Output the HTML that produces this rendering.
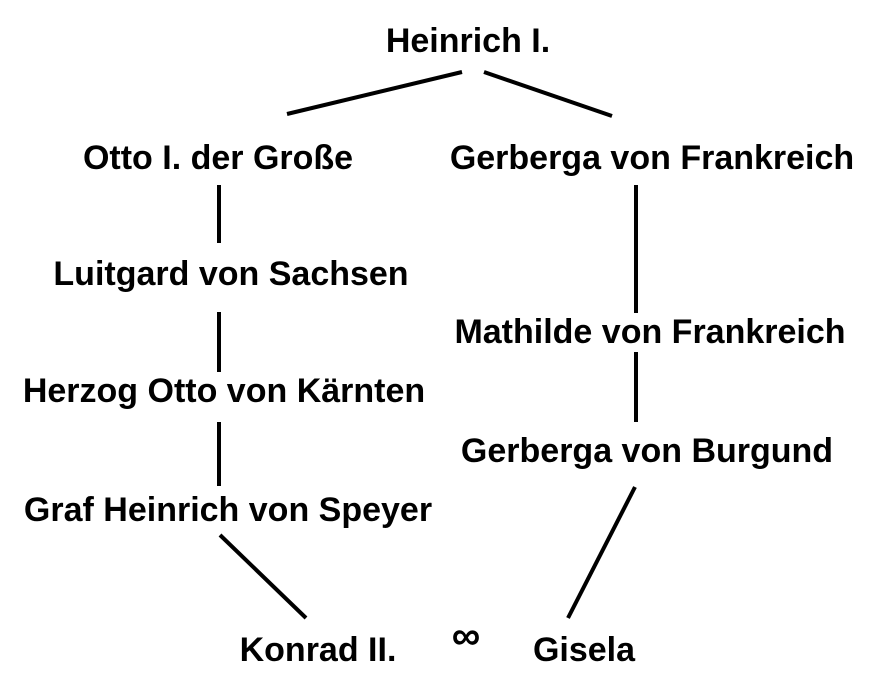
<!DOCTYPE html>
<html><head><meta charset="utf-8"><style>
html,body{margin:0;padding:0;background:#fff;}
body{width:885px;height:681px;position:relative;overflow:hidden;font-family:"Liberation Sans",Arial,sans-serif;font-weight:bold;font-size:34px;color:#000;}
.t{position:absolute;transform:translate(-50%,-50%);white-space:nowrap;line-height:1;}
svg{position:absolute;left:0;top:0;}
</style></head><body>
<svg width="885" height="681"><g stroke="#000" stroke-width="4" fill="none">
<line x1="462" y1="72" x2="287" y2="114"/>
<line x1="484" y1="72" x2="612" y2="116"/>
<line x1="219" y1="185" x2="219" y2="243"/>
<line x1="219" y1="312" x2="219" y2="372"/>
<line x1="219" y1="422" x2="219" y2="486"/>
<line x1="220" y1="535" x2="306" y2="618"/>
<line x1="636" y1="185" x2="636" y2="313"/>
<line x1="636" y1="352" x2="636" y2="422"/>
<line x1="635" y1="487" x2="568" y2="618"/>
</g></svg>
<div class="t" style="left:468px;top:41px">Heinrich I.</div>
<div class="t" style="left:218px;top:158px">Otto I. der Große</div>
<div class="t" style="left:652px;top:158px">Gerberga von Frankreich</div>
<div class="t" style="left:231px;top:274px">Luitgard von Sachsen</div>
<div class="t" style="left:650px;top:332px">Mathilde von Frankreich</div>
<div class="t" style="left:224px;top:391px">Herzog Otto von Kärnten</div>
<div class="t" style="left:647px;top:451px">Gerberga von Burgund</div>
<div class="t" style="left:228px;top:510px">Graf Heinrich von Speyer</div>
<div class="t" style="left:318px;top:650px">Konrad II.</div>
<div class="t" style="left:466px;top:636px;font-size:40px">∞</div>
<div class="t" style="left:584px;top:650px">Gisela</div>
</body></html>
